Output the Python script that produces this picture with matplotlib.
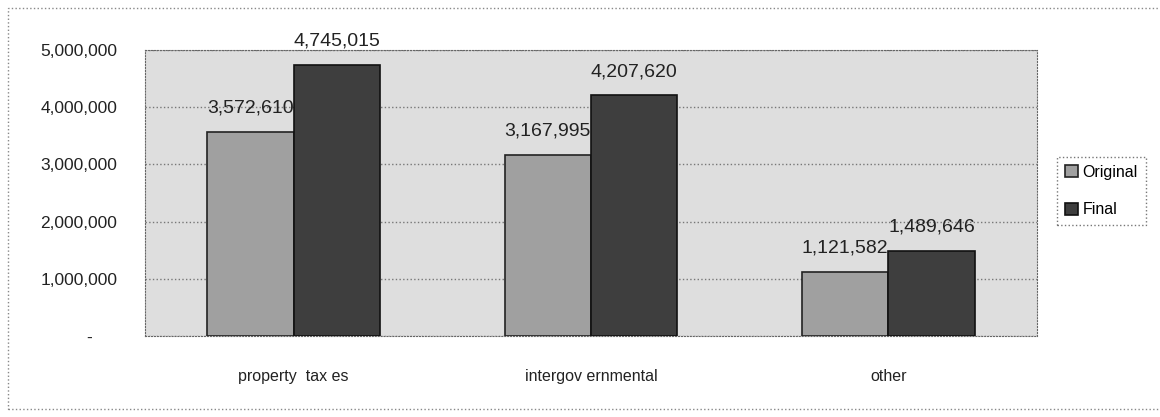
import matplotlib.pyplot as plt
import numpy as np
from matplotlib.patches import Rectangle

plt.rcParams['font.family'] = ['Liberation Sans', 'DejaVu Sans']

categories = ['property  tax es', 'intergov ernmental', 'other']
original = [3572610, 3167995, 1121582]
final = [4745015, 4207620, 1489646]
series_names = ['Original', 'Final']
yticks = [0, 1000000, 2000000, 3000000, 4000000, 5000000]

fig = plt.figure(figsize=(11.6, 4.17), dpi=100)
ax = fig.add_axes([145 / 1160, 1 - 336 / 417, (1037 - 145) / 1160, (336 - 50) / 417])

x = np.arange(len(categories))
w = 0.29
ax.set_facecolor('#dedede')
b1 = ax.bar(x - w / 2, original, w, color='#a0a0a0', edgecolor='#222222', linewidth=1.2,
            label=series_names[0], zorder=3)
b2 = ax.bar(x + w / 2, final, w, color='#3e3e3e', edgecolor='#111111', linewidth=1.2,
            label=series_names[1], zorder=3)

# value labels sit well above the bar tops
for bars, vals in ((b1, original), (b2, final)):
    for r, v in zip(bars, vals):
        ax.annotate(f'{v:,}', (r.get_x() + r.get_width() / 2, v), xytext=(0, 11),
                    textcoords='offset points', ha='center', va='bottom',
                    fontsize=14, color='#222222', zorder=4)

ax.set_xlim(-0.5, 2.5)
ax.set_ylim(0, 5000000)
ax.set_yticks(yticks)
ax.set_yticklabels(['-     ' if t == 0 else f'{t:,}' for t in yticks], fontsize=12.5, color='#222222')
ax.set_xticks(x)
ax.set_xticklabels(categories, fontsize=11.5, color='#222222')
ax.tick_params(axis='y', length=0, pad=20)
ax.tick_params(axis='x', length=0, pad=24)
ax.grid(axis='y', linestyle=':', color='#777777', linewidth=1, zorder=1)
for s in ax.spines.values():
    s.set_linestyle(':')
    s.set_color('#666666')

leg = ax.legend(loc='center left', bbox_to_anchor=(1057 / 1160, 1 - 191 / 417),
                bbox_transform=fig.transFigure, fontsize=11.5, frameon=True,
                fancybox=False, handlelength=0.8, handleheight=0.8, handletextpad=0.3,
                borderpad=0.5, borderaxespad=0, labelspacing=1.4)
leg.get_frame().set_linestyle(':')
leg.get_frame().set_edgecolor('#555555')

fig.patches.append(Rectangle((8 / 1160, 0.02), 1.2, 1 - 8 / 417 - 0.02, transform=fig.transFigure,
                             fill=False, linestyle=':', edgecolor='#888888', linewidth=1))

fig.savefig('out.png', dpi=100)
